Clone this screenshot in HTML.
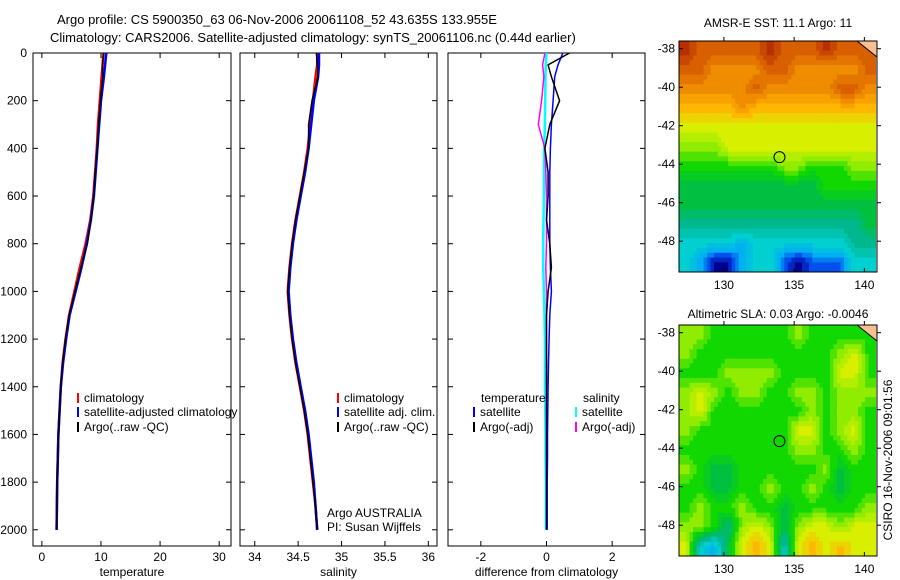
<!DOCTYPE html>
<html><head><meta charset="utf-8"><style>
body{margin:0;background:#fff;}
svg{font-family:"Liberation Sans",sans-serif;display:block}
</style></head><body>
<svg id="fig" width="900" height="580" viewBox="0 0 900 580" xmlns="http://www.w3.org/2000/svg">
<text x="57" y="24" font-size="13">Argo profile: CS 5900350_63 06-Nov-2006 20061108_52 43.635S 133.955E</text>
<text x="50" y="42" font-size="13">Climatology: CARS2006. Satellite-adjusted climatology: synTS_20061106.nc (0.44d earlier)</text>
<text x="778" y="27" font-size="12" text-anchor="middle">AMSR-E SST: 11.1 Argo: 11</text>
<text x="778" y="318" font-size="12" text-anchor="middle">Altimetric SLA: 0.03 Argo: -0.0046</text>
<text transform="translate(892,460) rotate(-90)" font-size="12" text-anchor="middle">CSIRO 16-Nov-2006 09:01:56</text>
<g id="plots"></g>
</svg>
<script>
const depths = [0,50,100,200,300,400,500,600,700,800,900,1000,1100,1200,1300,1400,1500,1600,1700,1800,1900,2000];
const tempClim = [10.4,10.3,10.1,9.8,9.5,9.3,9.0,8.7,8.2,7.4,6.4,5.5,4.6,4.0,3.5,3.2,3.0,2.8,2.7,2.6,2.55,2.5];
const tempSat  = [10.9,10.7,10.5,10.0,9.7,9.4,9.1,8.8,8.3,7.6,6.7,5.7,4.7,4.1,3.6,3.2,3.0,2.8,2.7,2.6,2.55,2.5];
const tempArgo = [10.5,10.2,10.3,9.9,9.6,9.4,9.0,8.8,8.3,7.7,6.6,5.6,4.6,4.0,3.5,3.2,3.0,2.8,2.7,2.6,2.55,2.5];
const salClim = [34.72,34.72,34.70,34.67,34.64,34.61,34.57,34.52,34.47,34.43,34.40,34.38,34.40,34.43,34.47,34.52,34.57,34.61,34.64,34.67,34.70,34.72];
const salSat  = [34.74,34.74,34.73,34.68,34.65,34.62,34.58,34.53,34.48,34.44,34.41,34.39,34.41,34.44,34.48,34.53,34.58,34.62,34.65,34.68,34.70,34.72];
const salArgo = [34.71,34.72,34.73,34.66,34.62,34.62,34.57,34.52,34.47,34.43,34.40,34.38,34.40,34.43,34.47,34.52,34.57,34.61,34.64,34.67,34.70,34.72];
const dTempSat  = [0.5,0.35,0.25,0.2,0.15,0.12,0.1,0.1,0.1,0.1,0.12,0.15,0.1,0.08,0.06,0.05,0.04,0.03,0.03,0.02,0.02,0.02];
const dTempArgo = [0.7,0.05,0.15,0.4,0.1,-0.05,0.05,0.05,0.0,0.1,0.15,0.05,0.0,0.0,0.0,0.0,0.0,0.0,0.0,0.0,0.0,0.0];
const dSalSat   = [0.0,-0.02,-0.03,-0.04,-0.05,-0.07,-0.08,-0.08,-0.09,-0.1,-0.1,-0.08,-0.06,-0.05,-0.05,-0.05,-0.04,-0.03,-0.03,-0.02,-0.02,-0.02];
const dSalArgo  = [-0.05,-0.12,-0.08,-0.15,-0.25,-0.05,-0.02,0.0,0.0,0.0,-0.02,0.0,0.0,0.0,0.0,0.0,0.0,0.0,0.0,0.0,0.0,0.0];
const yTicks = [0,200,400,600,800,1000,1200,1400,1600,1800,2000];
const tTicks = [0,10,20,30];
const sTicks = [34,34.5,35,35.5,36];
const sTickLabels = ["34","34.5","35","35.5","36"];
const dTicks = [-2,0,2];
const latTicks = [-38,-40,-42,-44,-46,-48];
const lonTicks = [130,135,140];
const sstGrid = [
[12,11,11,11,11,11,12,11,11,11,12,11,11,11],
[11,11,10,10,10,10,11,11,10,10,10,10,10,11],
[10,10,10,10,10,11,10,10,10,10,10,11,11,10],
[9,9,9,9,10,9,9,9,9,9,9,9,9,9],
[8,8,8,8,8,8,8,8,8,8,8,8,8,8],
[7,7,7,8,8,8,8,8,8,8,8,8,8,8],
[6,6,6,6,6,6,6,7,7,6,6,6,7,7],
[5,5,5,5,5,5,5,5,5,5,6,6,6,6],
[5,5,5,5,5,5,5,5,5,5,5,5,5,5],
[4,4,4,4,4,4,4,4,4,4,4,4,4,5],
[3,3,3,3,2,3,3,3,3,3,3,3,4,4],
[3,2,0,0,2,3,3,1,0,1,1,1,3,3]];
const slaGrid = [
[7,7,6,6,6,6,6,6,7,6,6,6,6,6],
[7,6,6,6,6,6,6,6,6,6,6,7,8,6],
[6,6,6,7,7,7,7,6,6,6,6,8,8,6],
[7,8,7,6,7,7,6,6,7,7,6,7,7,7],
[7,8,6,6,6,6,6,6,6,7,6,7,7,6],
[7,6,6,6,6,6,6,6,8,8,6,7,8,6],
[6,6,6,6,6,6,6,6,7,7,6,6,7,6],
[7,6,5,5,6,6,6,6,6,6,7,5,6,6],
[6,6,5,5,6,6,7,6,6,7,6,5,6,6],
[6,7,6,6,7,6,6,5,6,6,6,6,6,7],
[7,7,6,4,7,8,7,5,7,8,8,7,8,8],
[8,3,2,5,8,9,8,3,8,9,8,9,8,8]];
const stops=["#000090","#0050f0","#00b0f0","#00d0d0","#00b890","#00c040","#10d800","#90ec00","#d8f000","#ffb800","#f08c00","#d86000","#b83000"];
const NS="http://www.w3.org/2000/svg";
const root=document.getElementById('plots');
function mk(tag,attrs,parent){const e=document.createElementNS(NS,tag);for(const k in attrs)e.setAttribute(k,attrs[k]);(parent||root).appendChild(e);return e;}
const Y0=53,Y1=546,D0=0,D1=2068;
const yScale=d=>Y0+(d-D0)/(D1-D0)*(Y1-Y0);
function panel(name,x0,x1,v0,v1,ticks,labels,xlabel,showY){
  const g=mk('g',{});
  
  
  const xs=v=>x0+(v-v0)/(v1-v0)*(x1-x0);
  mk('rect',{x:x0,y:Y0,width:x1-x0,height:Y1-Y0,fill:'#fff',stroke:'#000','stroke-width':1},g);
  ticks.forEach((t,i)=>{const x=xs(t);
    mk('line',{x1:x,x2:x,y1:Y0,y2:Y0+5,stroke:'#000'},g);mk('line',{x1:x,x2:x,y1:Y1,y2:Y1-5,stroke:'#000'},g);
    const tx=mk('text',{x:x,y:Y1+15,'font-size':12,'text-anchor':'middle'},g);tx.textContent=labels[i];
    
    });
  yTicks.forEach(t=>{const y=yScale(t);
    mk('line',{x1:x0,x2:x0+5,y1:y,y2:y,stroke:'#000'},g);mk('line',{x1:x1,x2:x1-5,y1:y,y2:y,stroke:'#000'},g);
    if(showY){const tx=mk('text',{x:27,y:y+4,'font-size':12,'text-anchor':'end'},g);tx.textContent=t;
      
      }});
  const xl=mk('text',{x:(x0+x1)/2,y:Y1+30,'font-size':12,'text-anchor':'middle'},g);xl.textContent=xlabel;
  
  
  return {g,xs};
}
function line(p,vals,color,w,name){
  const pts=vals.map((v,i)=>p.xs(v).toFixed(1)+','+yScale(depths[i]).toFixed(1)).join(' ');
  const l=mk('polyline',{points:pts,fill:'none',stroke:color,'stroke-width':w},p.g);
  
  
}
function legend(g,x,y,color,label){
  mk('line',{x1:x,x2:x,y1:y-9,y2:y+1,stroke:color,'stroke-width':2},g);
  const t=mk('text',{x:x+6,y:y,'font-size':12},g);t.textContent=label;
  
  
}
const p1=panel('temperature-panel',33,231,-1.5,32,tTicks,tTicks.map(String),'temperature',true);
line(p1,tempClim,'#f00',2.5,'temp-climatology-line');
line(p1,tempSat,'#00f',2.5,'temp-satellite-line');
line(p1,tempArgo,'#000',1.5,'temp-argo-line');
legend(p1.g,78,402,'#f00','climatology');
legend(p1.g,78,416,'#00f','satellite-adjusted climatology');
legend(p1.g,78,431,'#000','Argo(..raw -QC)');
const p2=panel('salinity-panel',240,437,33.83,36.1,sTicks,sTickLabels,'salinity',false);
line(p2,salClim,'#f00',2.5,'sal-climatology-line');
line(p2,salSat,'#00f',2.5,'sal-satellite-line');
line(p2,salArgo,'#000',1.5,'sal-argo-line');
legend(p2.g,338,402,'#f00','climatology');
legend(p2.g,338,416,'#00f','satellite adj. clim.');
legend(p2.g,338,431,'#000','Argo(..raw -QC)');
[['Argo AUSTRALIA',517],['PI: Susan Wijffels',531]].forEach(a=>{const t=mk('text',{x:327,y:a[1],'font-size':12},p2.g);t.textContent=a[0];
 
 });
const p3=panel('difference-panel',448,645,-3,3,dTicks,dTicks.map(String),'difference from climatology',false);
line(p3,dSalSat,'#0ff',2.5,'sal-diff-satellite-line');
line(p3,dSalArgo,'#f0f',1.5,'sal-diff-argo-line');
line(p3,dTempSat,'#00f',1.5,'temp-diff-satellite-line');
line(p3,dTempArgo,'#000',1.5,'temp-diff-argo-line');
[['temperature',481],['salinity',583]].forEach(a=>{const t=mk('text',{x:a[1],y:402,'font-size':12},p3.g);t.textContent=a[0];
 
 });
legend(p3.g,474,416,'#00f','satellite');
legend(p3.g,474,431,'#000','Argo(-adj)');
legend(p3.g,576,416,'#0ff','satellite');
legend(p3.g,576,431,'#f0f','Argo(-adj)');

function hex(c){return [1,3,5].map(i=>parseInt(c.substr(i,2),16));}
function colorAt(v){v=Math.max(0,Math.min(stops.length-1,v));const i=Math.min(stops.length-2,Math.floor(v)),f=v-i;
  const a=hex(stops[i]),b=hex(stops[i+1]);return 'rgb('+a.map((x,k)=>Math.round(x+(b[k]-x)*f)).join(',')+')';}
function sample(grid,r,c){ // r,c in cell-center coordinates
  const R=grid.length,C=grid[0].length;
  r=Math.max(0,Math.min(R-1,r));c=Math.max(0,Math.min(C-1,c));
  const r0=Math.floor(r),c0=Math.floor(c),r1=Math.min(R-1,r0+1),c1=Math.min(C-1,c0+1),fr=r-r0,fc=c-c0;
  return grid[r0][c0]*(1-fr)*(1-fc)+grid[r0][c1]*(1-fr)*fc+grid[r1][c0]*fr*(1-fc)+grid[r1][c1]*fr*fc;
}
function map(name,grid,top,bottom){
  const L=679,R=877,lon0=126.8,lon1=140.9,lat0=-37.6,lat1=-49.6;
  const g=mk('g',{});
  
  
  const xs=v=>L+(v-lon0)/(lon1-lon0)*(R-L);
  const ys=v=>top+(v-lat0)/(lat1-lat0)*(bottom-top);
  const sub=4,rows=grid.length*sub,cols=grid[0].length*sub;
  for(let r=0;r<rows;r++)for(let c=0;c<cols;c++){
    const lon=lon0+c/sub,lat=lat0-r/sub;
    if(lon>=lon1||lat<=lat1)continue;
    const v=sample(grid,(r+0.5)/sub-0.5,(c+0.5)/sub-0.5);
    const x=xs(lon),y=ys(lat),xe=Math.min(R,xs(lon+1/sub)),ye=Math.min(bottom,ys(lat-1/sub));
    const cell=mk('rect',{x:x,y:y,width:xe-x+0.5,height:ye-y+0.5,fill:colorAt(Math.round(v*2)/2)},g);
    
    
  }
  mk('path',{d:`M${R-20},${top} L${R},${top} L${R},${top+16} Z`,fill:'#f8c090',stroke:'#000','stroke-width':1},g);
  mk('rect',{x:L,y:top,width:R-L,height:bottom-top,fill:'none',stroke:'#000'},g);
  latTicks.forEach(t=>{const y=ys(t);mk('line',{x1:L,x2:L+4,y1:y,y2:y,stroke:'#000'},g);mk('line',{x1:R,x2:R+4,y1:y,y2:y,stroke:'#000'},g);
    const tx=mk('text',{x:L-4,y:y+4,'font-size':12,'text-anchor':'end'},g);tx.textContent=t;
    
    });
  lonTicks.forEach(t=>{const x=xs(t);mk('line',{x1:x,x2:x,y1:top,y2:top-4,stroke:'#000'},g);mk('line',{x1:x,x2:x,y1:bottom,y2:bottom-4,stroke:'#000'},g);
    const tx=mk('text',{x:x,y:bottom+17,'font-size':12,'text-anchor':'middle'},g);tx.textContent=t;
    
    });
  const c=mk('circle',{cx:xs(133.955),cy:ys(-43.635),r:5.5,fill:'none',stroke:'#000'},g);
  
  
}
map('sst-map',sstGrid,41,272);
map('sla-map',slaGrid,325,556);
</script>
</body></html>
